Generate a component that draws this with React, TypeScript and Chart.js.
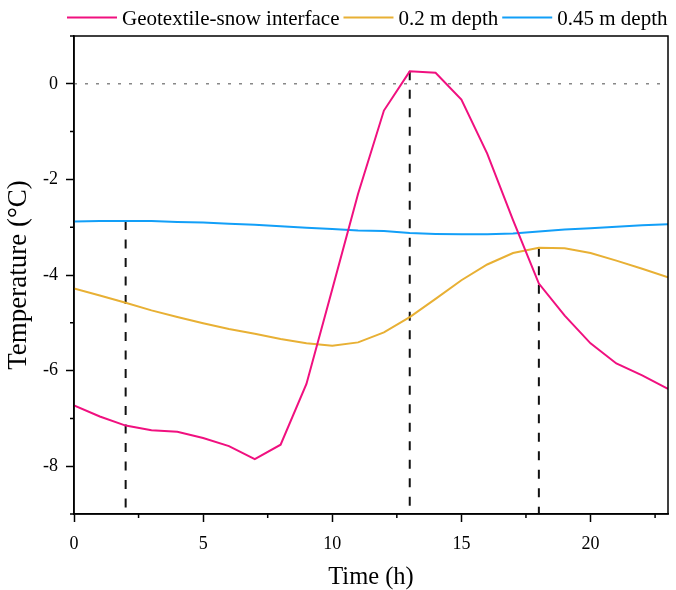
import { useEffect, useRef } from 'react';
import { Chart, registerables } from 'chart.js';

Chart.register(...registerables);

const hours = [0, 1, 2, 3, 4, 5, 6, 7, 8, 9, 10, 11, 12, 13, 14, 15, 16, 17, 18, 19, 20, 21, 22, 23];
const interfaceTemp = [-6.73, -6.96, -7.15, -7.25, -7.28, -7.41, -7.58, -7.85, -7.55, -6.28, -4.3, -2.3, -0.56, 0.26, 0.23, -0.33, -1.46, -2.85, -4.18, -4.85, -5.43, -5.85, -6.1, -6.38];
const depth02Temp = [-4.28, -4.43, -4.58, -4.74, -4.88, -5.01, -5.13, -5.23, -5.34, -5.43, -5.48, -5.41, -5.2, -4.88, -4.5, -4.11, -3.78, -3.54, -3.43, -3.44, -3.54, -3.7, -3.87, -4.05];
const depth045Temp = [-2.88, -2.87, -2.87, -2.87, -2.89, -2.9, -2.93, -2.95, -2.98, -3.01, -3.04, -3.07, -3.08, -3.12, -3.14, -3.15, -3.15, -3.13, -3.09, -3.05, -3.02, -2.99, -2.96, -2.94];

const seriesLabels = ['Geotextile-snow interface', '0.2 m depth', '0.45 m depth'];
const seriesColors = ['#F0107F', '#E8B034', '#129FF8'];

const xTicks = [0, 5, 10, 15, 20];
const xMinorTicks = [2.5, 7.5, 12.5, 17.5, 22.5];
const yTicks = [0, -2, -4, -6, -8];
const yMinorTicks = [1, -1, -3, -5, -7, -9];
const xRange = [0, 23];
const yRange = [-9, 1];

// vertical dashed markers: hour and the series whose value they reach
const markerHours = [2, 13, 18];
const markerSeries = [2, 0, 1];

const FONT = '"Liberation Serif", "Times New Roman", serif';

export default function App() {
  const ref = useRef<HTMLCanvasElement | null>(null);

  useEffect(() => {
    document.body.style.margin = '0';
    const canvas = ref.current;
    if (!canvas) return;
    const allSeries = [interfaceTemp, depth02Temp, depth045Temp];

    const lineSets = allSeries.map((vals, i) => ({
      label: seriesLabels[i],
      data: hours.map((h, j) => ({ x: h, y: vals[j] })),
      borderColor: seriesColors[i],
      backgroundColor: seriesColors[i],
      borderWidth: 2,
      pointRadius: 0,
      tension: 0,
      order: i === 0 ? 0 : 1,
    }));

    const markerSets = markerHours.map((h, k) => {
      const vals = allSeries[markerSeries[k]];
      const top = vals[hours.indexOf(h)];
      return {
        label: 'marker' + k,
        data: [{ x: h, y: top }, { x: h, y: yRange[0] }],
        borderColor: '#111',
        backgroundColor: '#111',
        borderWidth: 2,
        borderDash: [9, 9.5],
        pointRadius: 0,
        order: 2,
      };
    });

    const zeroSet = {
      label: 'zero',
      data: [{ x: xRange[0], y: 0 }, { x: xRange[1], y: 0 }],
      borderColor: '#888',
      backgroundColor: '#888',
      borderWidth: 1.5,
      borderDash: [3, 8],
      pointRadius: 0,
      order: 3,
    };

    const framePlugin = {
      id: 'frame',
      afterDraw(chart: any) {
        const { ctx, chartArea: a, scales } = chart;
        const x = scales.x;
        const y = scales.y;
        ctx.save();
        ctx.strokeStyle = '#000';
        ctx.lineWidth = 1.5;
        ctx.strokeRect(a.left, a.top, a.right - a.left, a.bottom - a.top);
        ctx.beginPath();
        xMinorTicks.forEach((v) => {
          const px = x.getPixelForValue(v);
          ctx.moveTo(px, a.bottom);
          ctx.lineTo(px, a.bottom + 4);
        });
        yMinorTicks.forEach((v) => {
          const py = y.getPixelForValue(v);
          ctx.moveTo(a.left, py);
          ctx.lineTo(a.left - 4, py);
        });
        ctx.stroke();

        // legend
        ctx.font = `21px ${FONT}`;
        ctx.textBaseline = 'alphabetic';
        ctx.textAlign = 'left';
        let lx = 67;
        const lineY = 17.5;
        const textY = 25;
        seriesLabels.forEach((lab, i) => {
          ctx.strokeStyle = seriesColors[i];
          ctx.lineWidth = 2;
          ctx.setLineDash([]);
          ctx.beginPath();
          ctx.moveTo(lx, lineY);
          ctx.lineTo(lx + 50, lineY);
          ctx.stroke();
          lx += 55;
          ctx.fillStyle = '#000';
          ctx.fillText(lab, lx, textY);
          lx += ctx.measureText(lab).width + 4;
        });
        ctx.restore();
      },
    };

    const chart = new Chart(canvas, {
      type: 'line',
      data: { datasets: [...lineSets, ...markerSets, zeroSet] as any },
      options: {
        animation: false,
        responsive: false,
        maintainAspectRatio: false,
        layout: { padding: { top: 36, right: 8, left: 0, bottom: 0 } },
        plugins: {
          tooltip: { enabled: false },
          legend: { display: false },
        },
        scales: {
          x: {
            type: 'linear',
            min: xRange[0],
            max: xRange[1],
            afterBuildTicks: (s: any) => {
              s.ticks = xTicks.map((v) => ({ value: v }));
            },
            afterFit: (s: any) => {
              s.height = 76;
            },
            grid: { drawOnChartArea: false, drawTicks: true, tickLength: 8, tickColor: '#000', tickWidth: 1.5 },
            border: { display: true, color: '#000', width: 1.5 },
            ticks: { color: '#000', font: { family: FONT, size: 18 }, padding: 11, maxRotation: 0 },
            title: {
              display: true,
              text: 'Time (h)',
              color: '#000',
              font: { family: FONT, size: 24.5, lineHeight: 1 },
              padding: { top: 0, bottom: 0 },
            },
          },
          y: {
            type: 'linear',
            min: yRange[0],
            max: yRange[1],
            afterBuildTicks: (s: any) => {
              s.ticks = yTicks.map((v) => ({ value: v }));
            },
            afterFit: (s: any) => {
              s.width = 74;
            },
            grid: { drawOnChartArea: false, drawTicks: true, tickLength: 8, tickColor: '#000', tickWidth: 1.5 },
            border: { display: true, color: '#000', width: 1.5 },
            ticks: { color: '#000', font: { family: FONT, size: 18 }, padding: 8 },
            title: {
              display: true,
              text: 'Temperature (°C)',
              color: '#000',
              font: { family: FONT, size: 27 },
              padding: { top: 3, bottom: 0 },
            },
          },
        },
      },
      plugins: [framePlugin],
    });

    return () => chart.destroy();
  }, []);

  return (
    <div style={{ width: 676, height: 590 }}>
      <canvas ref={ref} width={676} height={590} style={{ display: 'block', width: 676, height: 590 }} />
    </div>
  );
}
